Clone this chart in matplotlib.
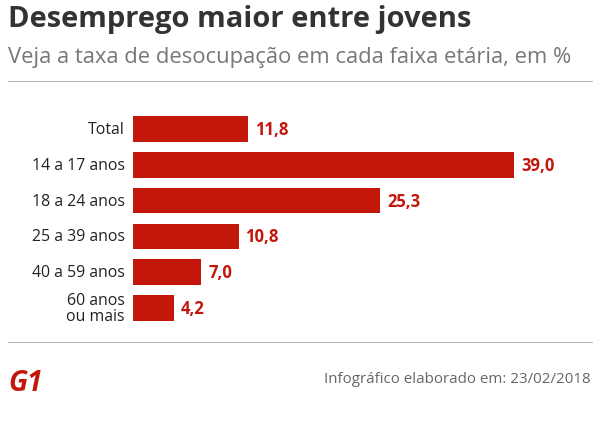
import matplotlib
matplotlib.use("Agg")
import matplotlib.pyplot as plt
from matplotlib.lines import Line2D

categories = ["Total", "14 a 17 anos", "18 a 24 anos", "25 a 39 anos", "40 a 59 anos", "60 anos\nou mais"]
values = [11.8, 39.0, 25.3, 10.8, 7.0, 4.2]
value_labels = ["11,8", "39,0", "25,3", "10,8", "7,0", "4,2"]

RED = "#c4170c"
FONT = "Open Sans"
fig = plt.figure(figsize=(6.0, 4.31), dpi=100)
fig.patch.set_facecolor("white")

fig.text(8/600, 1-20/431, "Desemprego maior entre jovens", fontsize=21, fontweight="bold",
         color="#333333", family=FONT, va="center", ha="left")
fig.text(8/600, 1-57/431, "Veja a taxa de desocupação em cada faixa etária, em %", fontsize=15.8,
         color="#777777", family=FONT, va="center", ha="left")
fig.add_artist(Line2D([8/600, 592/600], [1-82/431]*2, color="#bbbbbb", lw=0.8, transform=fig.transFigure))
fig.add_artist(Line2D([8/600, 592/600], [1-343/431]*2, color="#bbbbbb", lw=0.8, transform=fig.transFigure))

ax = fig.add_axes([133/600, 104/431, 467/600, 215/431])
ypos = list(range(len(values)))
ax.barh(ypos, values, height=0.72, color=RED)
ax.set_xlim(0, 467/9.77)
ax.set_ylim(5.5, -0.5)
ax.axis("off")
for y, v, lab, cat in zip(ypos, values, value_labels, categories):
    ax.annotate(lab, (v, y), xytext=(5, 0), textcoords="offset points", va="center", ha="left",
                color=RED, fontweight="bold", fontsize=12, family=FONT)
    ax.annotate(cat, (0, y), xytext=(-6, 0), textcoords="offset points", va="center", ha="right",
                color="#222222", fontsize=11.4, family=FONT, linespacing=1.0)

fig.text(8/600, 1-384/431, "G1", fontsize=20, fontweight="bold", color=RED, family=FONT,
         va="center", ha="left", style="italic")
fig.text(591/600, 1-380/431, "Infográfico elaborado em: 23/02/2018", fontsize=10.9,
         color="#666666", family=FONT, va="center", ha="right")

fig.savefig("out.png", dpi=100, facecolor="white")
